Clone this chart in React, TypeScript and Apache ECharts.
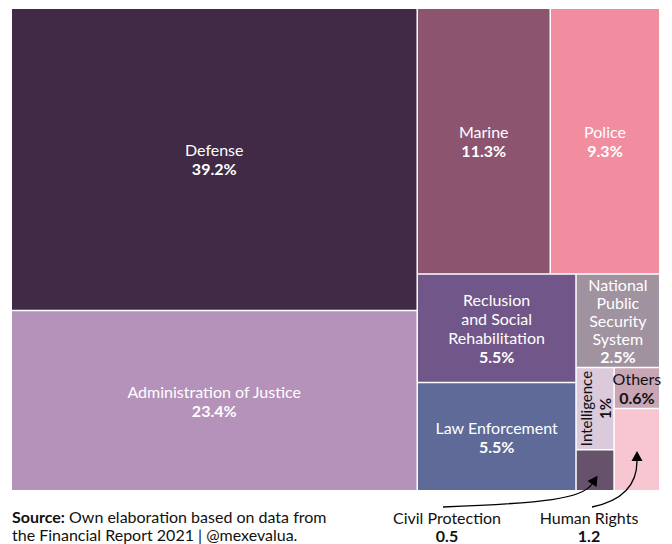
import React, { useEffect, useRef } from "react";
import * as echarts from "echarts";

// ---- data ----
const names = [
  "Defense",
  "Administration of Justice",
  "Marine",
  "Police",
  "Reclusion and Social Rehabilitation",
  "Law Enforcement",
  "National Public Security System",
  "Intelligence",
  "Civil Protection",
  "Others",
  "Human Rights",
];
const values = [39.2, 23.4, 11.3, 9.3, 5.5, 5.5, 2.5, 1, 0.5, 0.6, 1.2];
// label text as shown inside the cells (line breaks as in the picture)
const cellNames = [
  "Defense",
  "Administration of Justice",
  "Marine",
  "Police",
  "Reclusion\nand Social\nRehabilitation",
  "Law Enforcement",
  "National\nPublic\nSecurity\nSystem",
  "Intelligence",
  "",
  "Others",
  "",
];
// the last four small items are grouped in pairs
const topLevelCount = 7;
const smallGroups = [
  [7, 8],
  [9, 10],
];
const outsideLabelled = [8, 10];

// ---- styles ----
const colors = [
  "#402a46",
  "#b492b9",
  "#8d5470",
  "#f28c9f",
  "#715689",
  "#5f6a98",
  "#a0929f",
  "#dbc9dc",
  "#66536b",
  "#c9a6b5",
  "#f8c6d0",
];
const darkText = [7, 9];
const FONT = "Lato, 'Noto Sans', sans-serif";
const FS = 16;

function lineHeightFor(i: number) {
  return i === 6 ? 18 : 19;
}

function leaf(i: number) {
  const nLines = cellNames[i].split("\n").length + 1;
  const lh = lineHeightFor(i);
  const label: any = {
    show: outsideLabelled.indexOf(i) < 0,
    color: darkText.indexOf(i) >= 0 ? "#111" : "#fff",
    offset: [0, -(nLines * lh) / 2],
  };
  if (i === 7) {
    label.rotate = 90;
    label.fontSize = 15;
  }
  return {
    name: names[i],
    value: values[i],
    itemStyle: { color: colors[i] },
    label,
  };
}

function buildData() {
  const data: any[] = [];
  for (let i = 0; i < topLevelCount; i++) data.push(leaf(i));
  data.push({
    name: "Smaller items",
    children: smallGroups.map((g, k) => ({
      name: "group " + k,
      children: g.map(leaf),
    })),
  });
  return data;
}

function arrowHead(x1: number, y1: number, cx: number, cy: number, len: number, half: number) {
  const dx = x1 - cx;
  const dy = y1 - cy;
  const l = Math.sqrt(dx * dx + dy * dy);
  const ux = dx / l;
  const uy = dy / l;
  const px = -uy;
  const py = ux;
  return [
    [x1 + ux * len, y1 + uy * len],
    [x1 + px * half, y1 + py * half],
    [x1 - px * half, y1 - py * half],
  ];
}

export default function App() {
  const ref = useRef<HTMLDivElement>(null);
  useEffect(() => {
    if (!ref.current) return;
    const chart = echarts.init(ref.current, null, { renderer: "svg" });

    const a1 = { x1: 443, y1: 507, cpx1: 545, cpy1: 503, cpx2: 582, cpy2: 499, x2: 592, y2: 484 };
    const a2 = { x1: 592, y1: 507, cpx1: 626, cpy1: 500, cpx2: 637, cpy2: 482, x2: 637, y2: 461 };

    const option: any = {
      animation: false,
      series: [
        {
          type: "treemap",
          left: 12,
          top: 9,
          width: 647,
          height: 481,
          sort: false,
          roam: false,
          nodeClick: false,
          silent: true,
          breadcrumb: { show: false },
          squareRatio: 0.5 * (1 + Math.sqrt(5)),
          itemStyle: { borderWidth: 0, gapWidth: 1.5, borderColor: "#ffffff" },
          upperLabel: { show: false },
          emphasis: { disabled: true },
          label: {
            show: true,
            position: ["50%", "50%"],
            align: "center",
            verticalAlign: "top",
            padding: 0,
            overflow: "none",
            fontFamily: FONT,
            fontSize: FS,
            formatter: (p: any) => {
              const i = names.indexOf(p.name);
              if (i < 0) return "";
              const suffix = i === 6 ? "2" : "";
              const lines = cellNames[i]
                .split("\n")
                .map((s) => "{n" + suffix + "|" + s + "}")
                .join("\n");
              return lines + "\n{v" + suffix + "|" + values[i] + "%}";
            },
            rich: {
              n: { fontFamily: FONT, lineHeight: 19, align: "center" },
              v: { fontFamily: FONT, fontWeight: "bold", lineHeight: 19, align: "center" },
              n2: { fontFamily: FONT, lineHeight: 18, align: "center" },
              v2: { fontFamily: FONT, fontWeight: "bold", lineHeight: 18, align: "center" },
            },
          },
          data: buildData(),
        },
      ],
      graphic: [
        {
          type: "text",
          left: 12,
          top: 507,
          z: 100,
          style: {
            text: "{b|Source:} Own elaboration based on data from\nthe Financial Report 2021 | @mexevalua.",
            font: FS + "px " + FONT,
            fill: "#111",
            lineHeight: 18,
            rich: {
              b: { fontFamily: FONT, fontSize: FS, fontWeight: "bold", fill: "#111", lineHeight: 18 },
            },
          },
        },
        {
          type: "text",
          x: 447,
          y: 517,
          z: 100,
          style: { text: names[8], font: FS + "px " + FONT, fill: "#111", textAlign: "center", textVerticalAlign: "middle" },
        },
        {
          type: "text",
          x: 447,
          y: 535,
          z: 100,
          style: { text: String(values[8]), font: "bold " + FS + "px " + FONT, fill: "#111", textAlign: "center", textVerticalAlign: "middle" },
        },
        {
          type: "text",
          x: 589,
          y: 517,
          z: 100,
          style: { text: names[10], font: FS + "px " + FONT, fill: "#111", textAlign: "center", textVerticalAlign: "middle" },
        },
        {
          type: "text",
          x: 589,
          y: 535,
          z: 100,
          style: { text: String(values[10]), font: "bold " + FS + "px " + FONT, fill: "#111", textAlign: "center", textVerticalAlign: "middle" },
        },
        {
          type: "bezierCurve",
          z: 100,
          shape: a1,
          style: { stroke: "#000", lineWidth: 1.3, fill: null },
        },
        {
          type: "polygon",
          z: 100,
          shape: { points: arrowHead(a1.x2, a1.y2, a1.cpx2, a1.cpy2, 10, 5.5) },
          style: { fill: "#000" },
        },
        {
          type: "bezierCurve",
          z: 100,
          shape: a2,
          style: { stroke: "#000", lineWidth: 1.3, fill: null },
        },
        {
          type: "polygon",
          z: 100,
          shape: { points: arrowHead(a2.x2, a2.y2, a2.cpx2, a2.cpy2, 10, 5.5) },
          style: { fill: "#000" },
        },
      ],
    };
    chart.setOption(option);
    return () => chart.dispose();
  }, []);
  return (
    <div
      ref={ref}
      style={{ position: "absolute", left: 0, top: 0, width: 672, height: 544 }}
    />
  );
}
